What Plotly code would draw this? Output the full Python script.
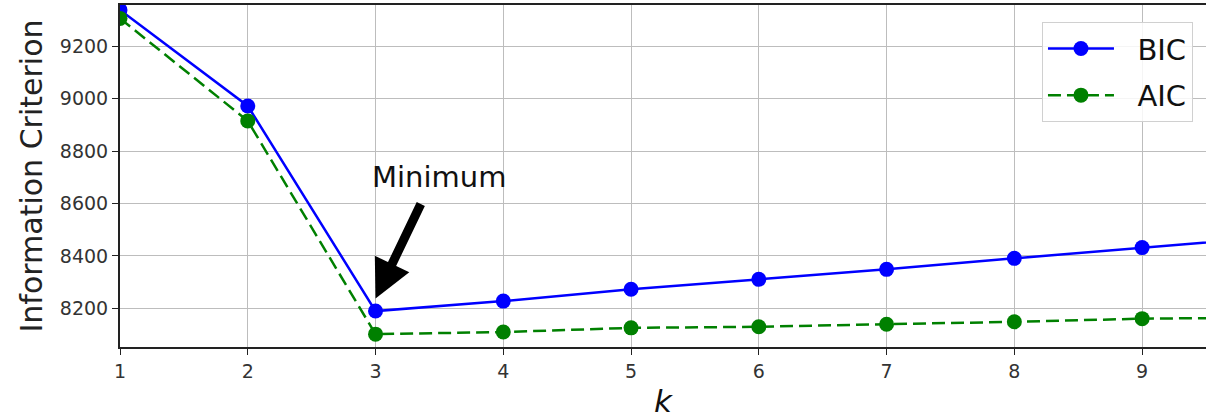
import plotly.graph_objects as go

ks = [1, 2, 3, 4, 5, 6, 7, 8, 9, 10]
bics = [9338, 8972, 8190, 8228, 8273, 8311, 8349, 8391, 8432, 8472]
aics = [9306, 8915, 8102, 8110, 8126, 8130, 8140, 8149, 8161, 8165]
y_ticks = [8200, 8400, 8600, 8800, 9000, 9200]
x_ticks = [1, 2, 3, 4, 5, 6, 7, 8, 9]

FONT = "DejaVu Sans"
PAD = "\u00a0\u00a0"

fig = go.Figure()
fig.add_trace(go.Scatter(
    x=ks, y=bics, name=PAD + "BIC", mode="lines+markers", legendgroup="bic",
    line=dict(color="#0000ff", width=2.5),
    marker=dict(color="#0000ff", size=15),
))
fig.add_trace(go.Scatter(
    x=ks, y=aics, name=PAD + "AIC", mode="lines+markers", legendgroup="aic",
    line=dict(color="#008000", width=2.5, dash="13px,6px"),
    marker=dict(color="#008000", size=15),
))

# arrow
fig.add_annotation(
    x=3, y=8238, xref="x", yref="y",
    ax=46, ay=-96, axref="pixel", ayref="pixel",
    text="", showarrow=True, arrowhead=2, arrowsize=0.85, arrowwidth=9,
    arrowcolor="black",
)
fig.add_annotation(
    x=3.5, y=8700, xref="x", yref="y",
    text="Minimum", showarrow=False,
    font=dict(family=FONT, size=29, color="#111111"),
)

fig.update_layout(
    width=1206, height=419,
    margin=dict(l=120, r=0, t=5, b=72),
    paper_bgcolor="white", plot_bgcolor="white",
    font=dict(family=FONT, color="#222222"),
    showlegend=True,
    legend=dict(
        x=0.988, y=0.95, xanchor="right", yanchor="top",
        bgcolor="rgba(255,255,255,0.85)", bordercolor="#d0d0d0", borderwidth=1,
        font=dict(family=FONT, size=29, color="#111111"),
        itemwidth=66, tracegroupgap=6,
    ),
    xaxis=dict(
        range=[1, 9.5], tickvals=x_ticks, ticktext=[str(v) for v in x_ticks],
        showgrid=True, gridcolor="#bdbdbd", gridwidth=1.3,
        showline=True, linecolor="#222222", linewidth=2, mirror=True,
        ticks="outside", ticklen=6, tickcolor="#222222",
        tickfont=dict(family=FONT, size=19, color="#333333"),
        title=dict(text="<i>k</i>", font=dict(family=FONT, size=31, color="#111111"), standoff=14),
        zeroline=False,
    ),
    yaxis=dict(
        range=[8053, 9357], tickvals=y_ticks, ticktext=[str(v) for v in y_ticks],
        showgrid=True, gridcolor="#bdbdbd", gridwidth=1.3,
        showline=True, linecolor="#222222", linewidth=2,
        ticks="outside", ticklen=6, tickcolor="#222222",
        tickfont=dict(family=FONT, size=19, color="#333333"),
        title=dict(text="Information Criterion", font=dict(family=FONT, size=30, color="#222222"), standoff=8),
        zeroline=False,
    ),
)

fig.write_html("out.html", config={"displayModeBar": False},
               post_script="document.body.style.margin='0px';")
